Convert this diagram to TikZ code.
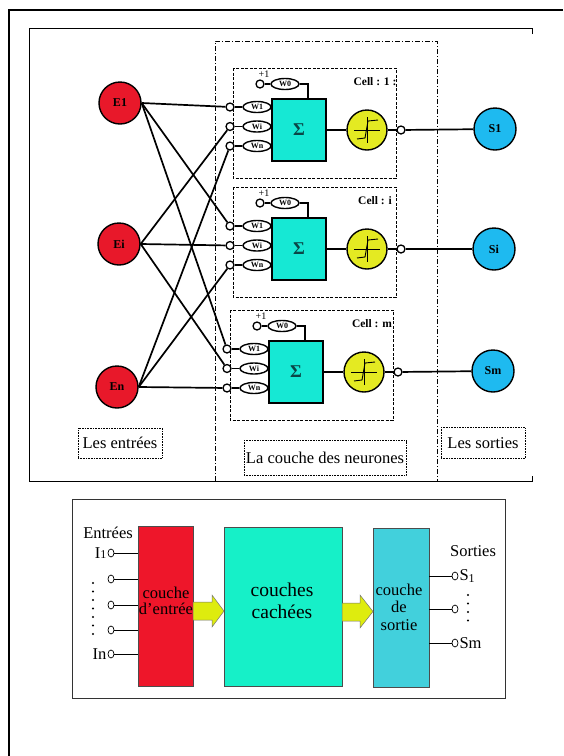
\documentclass[tikz,border=0pt]{standalone}
\usepackage{fontspec}
\setmainfont{Liberation Serif}
\usetikzlibrary{shapes.geometric,calc}
\definecolor{ered}{RGB}{232,24,42}
\definecolor{sblue}{RGB}{30,186,240}
\definecolor{sumteal}{RGB}{22,232,212}
\definecolor{actyel}{RGB}{228,234,34}
\definecolor{bred}{RGB}{238,22,42}
\definecolor{bteal}{RGB}{22,240,200}
\definecolor{bcyan}{RGB}{66,208,220}
\definecolor{arryel}{RGB}{222,236,14}
\definecolor{sigcol}{RGB}{10,70,70}
\newcommand{\fsz}[1]{\fontsize{#1}{#1}\selectfont}
\begin{document}
\begin{tikzpicture}[x=1pt,y=-1pt,
  wire/.style={line width=1.7pt},
  pin/.style={circle,draw,fill=white,inner sep=0pt,minimum size=8pt,line width=1.3pt},
  bpin/.style={ellipse,draw,fill=white,inner sep=0pt,minimum width=6pt,minimum height=8pt,line width=0.7pt},
  wt/.style={ellipse,draw,fill=white,inner sep=0pt,minimum width=28pt,minimum height=11pt,line width=1.4pt,font=\bfseries\fsz{8}},
  sumbox/.style={draw,fill=sumteal,line width=1.6pt,minimum width=54pt,minimum height=62pt,inner sep=0pt,font=\bfseries\fsz{18},text=sigcol},
  act/.style={circle,draw,fill=actyel,line width=1.4pt,minimum size=40pt,inner sep=0pt},
  enode/.style={circle,draw,fill=ered,line width=1.4pt,minimum size=42pt,inner sep=0pt,font=\bfseries\fsz{12}},
  snode/.style={circle,draw,fill=sblue,line width=1.4pt,minimum size=42pt,inner sep=0pt,font=\bfseries\fsz{12}},
  lbox/.style={draw,densely dotted,line width=0.6pt,inner sep=0pt,font=\fsz{16.5}},
  celldash/.style={dashed,line width=0.8pt,dash pattern=on 3pt off 1.5pt},
  blk/.style={draw=black!70,line width=0.8pt,inner sep=0pt},
  btxt/.style={align=center,font=\fsz{16.5}},
  barrow/.style={fill=arryel,draw=black!55,line width=0.5pt}
]
\useasboundingbox (0,0) rectangle (563,756);
% page border
\draw[line width=2.6pt] (9,756) -- (9,10) -- (563,10);
% top panel frame
\draw[line width=1pt] (532,34) -- (532,28) -- (29,28) -- (29,481) -- (532,481) -- (532,476);
% neuron layer box
\draw[dashed,line width=1pt,dash pattern=on 5pt off 2pt on 1pt off 2pt] (215,481) -- (215,41) -- (437,41) -- (437,481);

% cells
\foreach \i/\bx/\by/\lab in {1/272/99/{Cell : 1 :},2/272/218/{Cell : i},3/269/341/{Cell : m}}{
  \draw[celldash] (\bx-39,\by-31) rectangle (\bx+124,\by+79);
  \node[sumbox] (c\i-box) at (\bx+27,\by+31) {Σ};
  \foreach \k/\dy/\w in {1/8/W1,2/27.5/Wi,3/47/Wn}{
    \node[wt] (c\i-w\k) at (\bx-15,\by+\dy) {\w};
    \node[pin] (c\i-in\k) at (\bx-42,\by+\dy) {};
    \draw[wire] (c\i-in\k) -- (c\i-w\k);
  }
  \node[pin] (c\i-b) at (\bx-12,\by-15) {};
  \node[wt] (c\i-w0) at (\bx+13,\by-15) {W0};
  \node[font=\fsz{10}] (c\i-p1) at (\bx-8,\by-25) {+1};
  \coordinate (c\i-bend) at (\bx+36,\by-15);
  \draw[wire] (c\i-b) -- (c\i-w0) -- (c\i-bend) -- (c\i-bend |- c\i-box.north);
  \node[act] (c\i-act) at (\bx+95,\by+31) {};
  \draw[wire] (c\i-box) -- (c\i-act);
  \draw[line width=1pt] (\bx+82,\by+31) -- (\bx+108,\by+31);
  \draw[line width=1pt] (\bx+95,\by+18) -- (\bx+95,\by+44);
  \draw[line width=0.9pt] (\bx+85,\by+40) -- (\bx+93,\by+39) -- (\bx+96,\by+22) -- (\bx+106,\by+21);
  \node[pin] (c\i-out) at (\bx+129,\by+31) {};
  \draw[wire] (c\i-act) -- (c\i-out);
  \node[font=\bfseries\fsz{11.5}] (c\i-lab) at (\bx+103,\by-17) {\lab};
}

% input neurons
\node[enode] (E1) at (120,103) {E1};
\node[enode] (Ei) at (119,244) {Ei};
\node[enode] (En) at (117,387) {En};
% output neurons
\node[snode] (S1) at (495,129) {S1};
\node[snode] (Si) at (494,249) {Si};
\node[snode] (Sm) at (493,371) {Sm};

\foreach \e/\k in {E1/1,Ei/2,En/3}{
  \foreach \c in {1,2,3}{
    \draw[wire] (\e.east) -- (c\c-in\k);
  }
}
\draw[wire] (c1-out) -- (S1);
\draw[wire] (c2-out) -- (Si);
\draw[wire] (c3-out) -- (Sm);

% labels
\node[lbox,minimum width=84pt,minimum height=30pt] (le) at (120,443) {Les entrées};
\node[lbox,minimum width=162pt,minimum height=35pt] (ln) at (325,458) {La couche des neurones};
\node[lbox,minimum width=84pt,minimum height=31pt] (ls) at (483,443) {Les sorties};

% bottom panel
\draw[line width=1pt,black!80] (72,499) rectangle (505,698);
\node[blk,fill=bred,minimum width=55pt,minimum height=160pt] (inl) at (165.5,606) {};
\node[blk,fill=bteal,minimum width=118pt,minimum height=159pt] (hid) at (283,606.5) {};
\node[blk,fill=bcyan,minimum width=56pt,minimum height=159pt] (outl) at (401,607.5) {};
\node[btxt] (tin) at (166,601) {couche\\[-1pt]d'entrée};
\node[btxt,font=\fsz{19.5}] (thid) at (282,601) {couches\\[2pt]cachées};
\node[btxt] (tout) at (399,607) {couche\\[1pt]de\\[1pt]sortie};

\draw[barrow] (193,602) -- (212,602) -- (212,595) -- (224,611) -- (212,627) -- (212,620) -- (193,620) -- cycle;
\draw[barrow] (342,603) -- (360,603) -- (360,595) -- (373,611.5) -- (360,628) -- (360,621) -- (342,621) -- cycle;

% inputs
\node[btxt] (entrees) at (108,533) {Entrées};
\foreach \k/\yy in {1/553,2/579,3/605,4/630,5/654}{
  \node[bpin] (ip\k) at (111,\yy) {};
  \draw[line width=0.8pt] (ip\k) -- (ip\k -| inl.west);
}
\node[font=\fsz{16.5},anchor=east,inner sep=1pt] (I1) at (ip1.west) {I{\fsz{12}1}};
\node[font=\fsz{16.5},anchor=east,inner sep=1pt] (In) at (ip5.west) {In};
\foreach \yy in {583,591.5,600,608.5,617,625.5,634}{
  \fill (93,\yy) circle (1.2pt);
}
% outputs
\node[btxt] (sorties) at (473,551) {Sorties};
\foreach \k/\yy in {1/576,2/609,3/643}{
  \node[bpin] (op\k) at (455,\yy) {};
  \draw[line width=0.8pt] (op\k) -- (op\k -| outl.east);
}
\node[font=\fsz{16.5},anchor=west,inner sep=1pt] (So1) at (op1.east) {S\raisebox{-2pt}{\fsz{12}1}};
\node[font=\fsz{16.5},anchor=west,inner sep=1pt] (Som) at (op3.east) {Sm};
\foreach \yy in {595,603.5,612,620.5}{
  \fill (468,\yy) circle (1.2pt);
}
\end{tikzpicture}
\end{document}
